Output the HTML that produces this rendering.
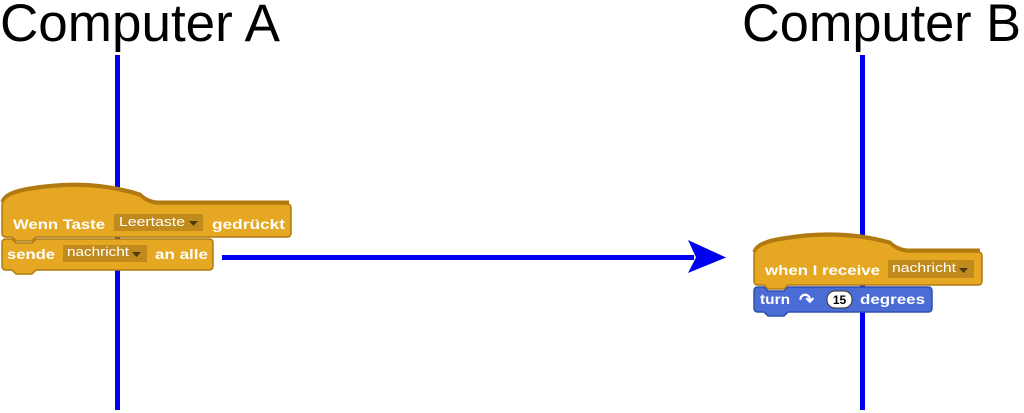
<!DOCTYPE html>
<html><head><style>body{margin:0;background:#fff}svg{display:block}</style></head><body>
<svg width="1024" height="413" viewBox="0 0 1024 413" xmlns="http://www.w3.org/2000/svg" font-family="Liberation Sans, sans-serif">
<text x="0" y="41" font-size="53" fill="#000" textLength="280" lengthAdjust="spacingAndGlyphs">Computer A</text>
<text x="742" y="41" font-size="53" fill="#000" textLength="279" lengthAdjust="spacingAndGlyphs">Computer B</text>
<rect x="115" y="55" width="5" height="355" fill="#0000f0"/>
<rect x="860" y="55" width="5" height="355" fill="#0000f0"/>
<!-- left hat block -->
<path d="M2,204 Q4,194 30,190 Q90,180 140,196 Q148,204 160,204 L287,204 Q291,204 291,208 L291,233 Q291,237 287,237 L36,237 L32,241 L16,241 L12,237 L6,237 Q2,237 2,233 Z" fill="#e6a822" stroke="#b07a10" stroke-width="1.5"/>
<path d="M2,202 Q4,192 30,188 Q90,178 140,194 Q148,202 160,202 L289,202" fill="none" stroke="#b07a10" stroke-width="3"/>
<rect x="114" y="214" width="89" height="17" fill="#c08a1c"/>
<text x="13" y="229" font-size="14" font-weight="bold" fill="#fff" textLength="92" lengthAdjust="spacingAndGlyphs">Wenn Taste</text>
<text x="119" y="226" font-size="13" fill="#fff" textLength="66" lengthAdjust="spacingAndGlyphs">Leertaste</text>
<path d="M189,221 h9 l-4.5,5z" fill="#4a3a10"/>
<text x="212" y="229" font-size="14" font-weight="bold" fill="#fff" textLength="73" lengthAdjust="spacingAndGlyphs">gedrückt</text>
<path d="M2,243 Q2,239 6,239 L12,239 L16,243 L32,243 L36,239 L209,239 Q213,239 213,243 L213,266 Q213,270 209,270 L36,270 L32,274 L16,274 L12,270 L6,270 Q2,270 2,266 Z" fill="#e6a822" stroke="#b07a10" stroke-width="1.5"/>
<rect x="63" y="245" width="84" height="17" fill="#c08a1c"/>
<text x="7" y="259" font-size="14" font-weight="bold" fill="#fff" textLength="48" lengthAdjust="spacingAndGlyphs">sende</text>
<text x="67" y="256" font-size="13" fill="#fff" textLength="62" lengthAdjust="spacingAndGlyphs">nachricht</text>
<path d="M132,252 h9 l-4.5,5z" fill="#4a3a10"/>
<text x="155" y="259" font-size="14" font-weight="bold" fill="#fff" textLength="53" lengthAdjust="spacingAndGlyphs">an alle</text>
<!-- arrow -->
<rect x="222" y="255" width="472" height="5" fill="#0000f0"/>
<path d="M688,240 L726,257.5 L688,273 L696,257.5 Z" fill="#0000f0"/>
<!-- right hat -->
<path d="M754,254 Q756,244 782,240 Q840,230 890,244 Q898,252 910,252 L978,252 Q982,252 982,256 L982,281 Q982,285 978,285 L788,285 L784,289 L768,289 L764,285 L758,285 Q754,285 754,281 Z" fill="#e6a822" stroke="#b07a10" stroke-width="1.5"/>
<path d="M754,252 Q756,242 782,238 Q840,228 890,242 Q898,250 910,250 L980,250" fill="none" stroke="#b07a10" stroke-width="3"/>
<rect x="888" y="260" width="86" height="18" fill="#c08a1c"/>
<text x="765" y="275" font-size="14" font-weight="bold" fill="#fff" textLength="115" lengthAdjust="spacingAndGlyphs">when I receive</text>
<text x="892" y="272" font-size="13" fill="#fff" textLength="64" lengthAdjust="spacingAndGlyphs">nachricht</text>
<path d="M959,268 h9 l-4.5,5z" fill="#4a3a10"/>
<path d="M754,291 Q754,287 758,287 L764,287 L768,291 L784,291 L788,287 L928,287 Q932,287 932,291 L932,308 Q932,312 928,312 L788,312 L784,316 L768,316 L764,312 L758,312 Q754,312 754,308 Z" fill="#4a6cd4" stroke="#3050b0" stroke-width="1.5"/>
<text x="760" y="304" font-size="14" font-weight="bold" fill="#fff" textLength="30" lengthAdjust="spacingAndGlyphs">turn</text>
<text x="799" y="306" font-size="18" font-weight="bold" fill="#fff">↷</text>
<rect x="827" y="291" width="25" height="17" rx="8" fill="#fff" stroke="#333"/>
<text x="839.5" y="304" font-size="12" font-weight="bold" fill="#000" text-anchor="middle">15</text>
<text x="860" y="304" font-size="14" font-weight="bold" fill="#fff" textLength="65" lengthAdjust="spacingAndGlyphs">degrees</text>
</svg>
</body></html>
